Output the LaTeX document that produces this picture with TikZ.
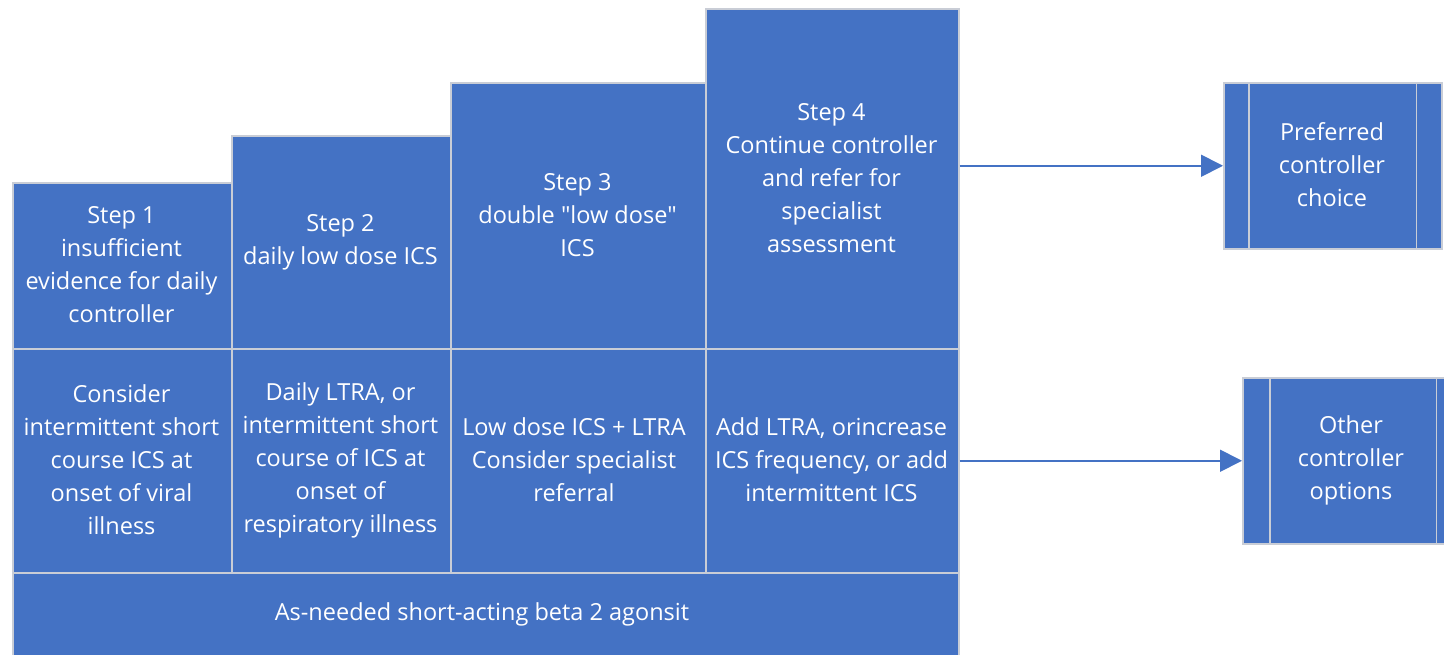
\documentclass[tikz,border=0pt]{standalone}
\usepackage{fontspec}
\setmainfont{Open Sans}[Ligatures=TeXOff]
\usetikzlibrary{arrows.meta}
\definecolor{cellblue}{HTML}{4472C4}
\definecolor{cellline}{HTML}{C9CDD6}
\begin{document}
\begin{tikzpicture}[x=1pt,y=-1pt,
  cell/.style={draw=cellline, line width=1.5pt, fill=cellblue, inner sep=0pt, anchor=north west},
  lbl/.style={text=white, align=center, inner sep=0pt, font=\fontsize{23.5}{33}\selectfont},
  conn/.style={draw=cellblue, line width=1.8pt, -{Triangle[length=22pt,width=22pt]}}]
\useasboundingbox (0,0) rectangle (1444,654);
% bottom bar
\node[cell, minimum width=946pt, minimum height=90pt] (bar) at (12,572) {};
\node[lbl] (bartext) at (482,614) {As-needed short-acting beta 2 agonsit};
% step row
\node[cell, minimum width=219pt, minimum height=166pt] (s1) at (12,182) {};
\node[lbl] (s1t) at (121.5,265) {Step 1\\insufficient\\evidence for daily\\controller};
\node[cell, minimum width=219pt, minimum height=213pt] (s2) at (231,135) {};
\node[lbl] (s2t) at (340.5,242) {Step 2\\daily low dose ICS};
\node[cell, minimum width=255pt, minimum height=266pt] (s3) at (450,82) {};
\node[lbl] (s3t) at (577.5,215) {Step 3\\double "low dose"\\ICS};
\node[cell, minimum width=253pt, minimum height=340pt] (s4) at (705,8) {};
\node[lbl] (s4t) at (831.5,178) {Step 4\\Continue controller\\and refer for\\specialist\\assessment};
% lower row
\node[cell, minimum width=219pt, minimum height=224pt] (b1) at (12,348) {};
\node[lbl] (b1t) at (121.5,460) {Consider\\intermittent short\\course ICS at\\onset of viral\\illness};
\node[cell, minimum width=219pt, minimum height=224pt] (b2) at (231,348) {};
\node[lbl] (b2t) at (340.5,460) {Daily LTRA, or\\intermittent short\\course of ICS at\\onset of\\respiratory illness};
\node[cell, minimum width=255pt, minimum height=224pt] (b3) at (450,348) {};
\node[lbl] (b3t) at (574,460) {Low dose ICS + LTRA\\Consider specialist\\referral};
\node[cell, minimum width=253pt, minimum height=224pt] (b4) at (705,348) {};
\node[lbl] (b4t) at (831.5,460) {Add LTRA, orincrease\\ICS frequency, or add\\intermittent ICS};
% right process boxes
\node[cell, minimum width=218pt, minimum height=166pt] (p1) at (1223,82) {};
\draw[cellline, line width=1.5pt] ([xshift=26pt]p1.north west) -- ([xshift=26pt]p1.south west);
\draw[cellline, line width=1.5pt] ([xshift=-26pt]p1.north east) -- ([xshift=-26pt]p1.south east);
\node[lbl] (p1t) at (1332,165) {Preferred\\controller\\choice};
\node[cell, minimum width=218pt, minimum height=166pt] (p2) at (1242,377) {};
\draw[cellline, line width=1.5pt] ([xshift=28pt]p2.north west) -- ([xshift=28pt]p2.south west);
\draw[cellline, line width=1.5pt] ([xshift=-25pt]p2.north east) -- ([xshift=-25pt]p2.south east);
\node[lbl] (p2t) at (1351,460) {Other\\controller\\options};
% connectors
\draw[conn] (s4.east |- p1.west) -- (p1.west);
\draw[conn] (b4.east |- p2.west) -- (p2.west);
\end{tikzpicture}
\end{document}
